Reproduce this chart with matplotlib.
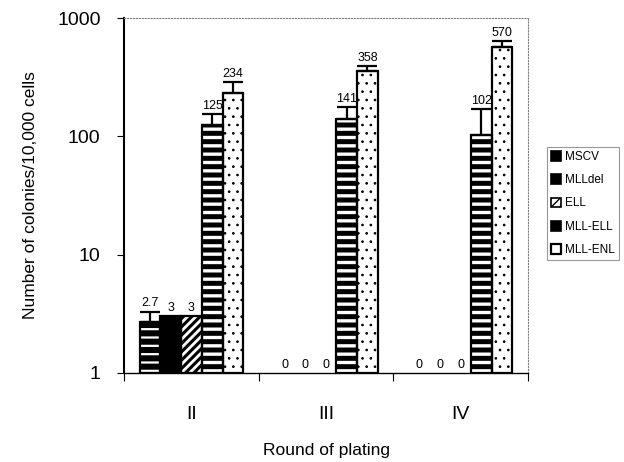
import numpy as np
import matplotlib
matplotlib.use("Agg")
import matplotlib.pyplot as plt
from matplotlib.patches import Patch

plt.rcParams['font.family'] = ['Liberation Sans', 'DejaVu Sans']

rounds = ['II', 'III', 'IV']
series = ['MSCV', 'MLLdel', 'ELL', 'MLL-ELL', 'MLL-ENL']
# colonies / 10,000 cells (0 = no colonies)
mscv = [2.7, 0, 0]
mlldel = [3, 0, 0]
ell = [3, 0, 0]
mll_ell = [125, 141, 102]
mll_enl = [234, 358, 570]
# upper error bars (absolute top of bar)
mscv_top = [3.3, 0, 0]
mll_ell_top = [155, 176, 171]
mll_enl_top = [290, 394, 637]
labels = [['2.7', '0', '0'], ['3', '0', '0'], ['3', '0', '0'],
          ['125', '141', '102'], ['234', '358', '570']]

values = [mscv, mlldel, ell, mll_ell, mll_enl]
tops = [mscv_top, None, None, mll_ell_top, mll_enl_top]

# style per series: face, hatch, hatch colour, hatch width
styles = [
    ('black', '--', 'white', 1.6),
    ('black', '', 'black', 1.0),
    ('white', '////', 'black', 2.2),
    ('black', '--', 'white', 2.4),
    ('white', '..', 'black', 0.7),
]

fig = plt.figure(figsize=(6.24, 4.62), dpi=100)
ax = fig.add_axes([0.199, 0.193, 0.647, 0.768])
ax.set_yscale('log')
ax.set_ylim(1, 1000)
ax.set_xlim(-0.5, 2.5)

x = np.arange(len(rounds))
w = 0.154

for i, (vals, top, lab, st) in enumerate(zip(values, tops, labels, styles)):
    xs = x + (i - 2) * w
    face, hatch, hcol, hlw = st
    v = np.array(vals, dtype=float)
    vplot = np.where(v > 0, v, np.nan)
    with plt.rc_context({'hatch.linewidth': hlw}):
        bars = ax.bar(xs, vplot - 1, bottom=1, width=w, color=face, edgecolor=hcol,
                      hatch=hatch, linewidth=0, zorder=2)
        for b in bars:
            if hasattr(b, 'set_hatch_linewidth'):
                b.set_hatch_linewidth(hlw)
    ax.bar(xs, vplot - 1, bottom=1, width=w, fill=False, edgecolor='black',
           linewidth=1.6, zorder=3)
    for j in range(len(rounds)):
        ytxt = v[j] if v[j] > 0 else 1
        if top is not None and top[j] > 0:
            ax.errorbar(xs[j], v[j], yerr=[[0], [top[j] - v[j]]], fmt='none',
                        ecolor='black', elinewidth=1.6, capsize=7, capthick=1.6,
                        zorder=4)
            ytxt = top[j]
        ax.annotate(lab[j], (xs[j], ytxt), xytext=(0, 1.5),
                    textcoords='offset points', ha='center', va='bottom',
                    fontsize=9)

ax.set_yticks([1, 10, 100, 1000])
ax.set_yticklabels(['1', '10', '100', '1000'])
ax.yaxis.set_minor_locator(matplotlib.ticker.NullLocator())
ax.tick_params(axis='y', which='major', length=5, width=0.8, pad=12,
               labelsize=14)

ax.set_xticks(x)
ax.set_xticklabels(rounds)
ax.set_xticks([-0.5, 0.5, 1.5, 2.5], minor=True)
ax.tick_params(axis='x', which='major', length=0, pad=24, labelsize=14)
ax.tick_params(axis='x', which='minor', length=6, width=0.8)

ax.set_ylabel('Number of colonies/10,000 cells', fontsize=12.5, labelpad=14)
ax.set_xlabel('Round of plating', fontsize=12.5, labelpad=14)

ax.spines['left'].set_linewidth(1.5)
ax.spines['bottom'].set_linewidth(1.0)
for s in ['top', 'right']:
    ax.spines[s].set_color('gray')
    ax.spines[s].set_linestyle(':')
    ax.spines[s].set_linewidth(0.8)

handles = [
    Patch(facecolor='black', edgecolor='black', linewidth=1.2),
    Patch(facecolor='black', edgecolor='black', linewidth=1.2),
    Patch(facecolor='white', edgecolor='black', hatch='////', linewidth=1.2),
    Patch(facecolor='black', edgecolor='black', linewidth=1.2),
    Patch(facecolor='white', edgecolor='black', linewidth=1.6),
]
leg = fig.legend(handles, series, loc='upper left', bbox_to_anchor=(0.876, 0.682),
                 fontsize=8.5, handlelength=0.9, handleheight=0.9, handletextpad=0.3,
                 labelspacing=0.95, borderpad=0.35, borderaxespad=0,
                 fancybox=False, frameon=True)
leg.get_frame().set_edgecolor('gray')
leg.get_frame().set_linewidth(0.8)

fig.savefig('out.png', dpi=100)
